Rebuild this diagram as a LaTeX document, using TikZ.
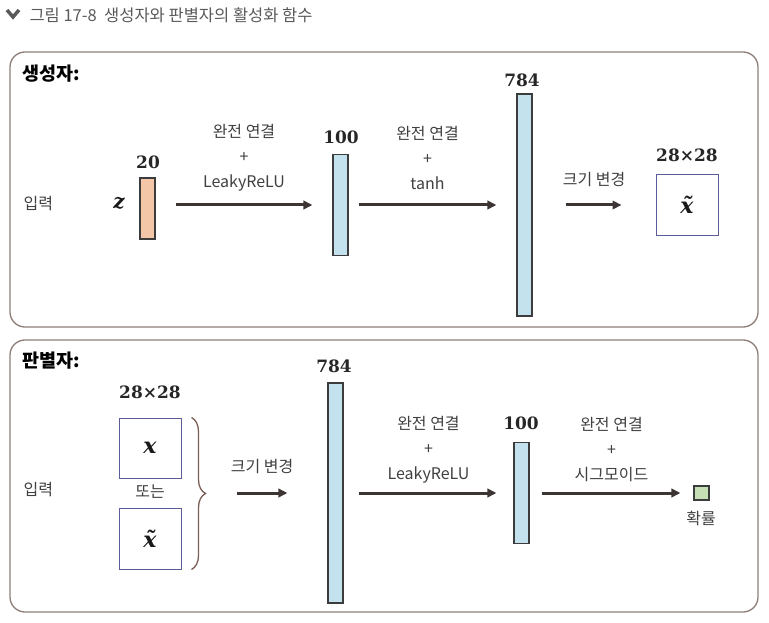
\documentclass[tikz,border=0pt]{standalone}
\usepackage{amsmath, amssymb}
\usepackage{fontspec}
\setmainfont{Noto Sans CJK KR}
\newfontfamily\dimfont{DejaVu Serif}
\usetikzlibrary{positioning, arrows.meta, decorations.pathreplacing}

\definecolor{titlegray}{HTML}{5A5A5A}
\definecolor{txtgray}{HTML}{404040}
\definecolor{panelline}{HTML}{8E7E78}
\definecolor{layerline}{HTML}{3C3C3C}
\definecolor{layerblue}{HTML}{C4E2EE}
\definecolor{layerorange}{HTML}{F2C6A6}
\definecolor{probgreen}{HTML}{C7DFB4}
\definecolor{imgline}{HTML}{5C5C98}
\definecolor{flowgray}{HTML}{3D3434}
\definecolor{bracebrown}{HTML}{7A5E55}

\tikzset{
	panel/.style={draw=panelline, line width=1.3pt, rounded corners=15pt},
	head/.style={anchor=west, font=\fontsize{18.5}{18.5}\selectfont\bfseries, text=black},
	plain/.style={text=txtgray},
	oplbl/.style={align=center, text=txtgray},
	dimlbl/.style={font=\dimfont\bfseries\fontsize{17}{17}\selectfont, text=black!85},
	varlbl/.style={font=\dimfont\bfseries\itshape\fontsize{22}{22}\selectfont, text=black!90},
	layer/.style={draw=layerline, line width=1.2pt, fill=layerblue, minimum width=15pt, inner sep=0pt},
	img/.style={draw=imgline, line width=1pt, minimum width=62pt, minimum height=60pt, inner sep=0pt},
	flow/.style={draw=flowgray, line width=3pt, -{Triangle[length=9pt, width=8.5pt]}},
	curly/.style={draw=bracebrown, line width=1.3pt, decorate, decoration={brace, amplitude=14pt}}
}

\begin{document}
\begin{tikzpicture}[x=1pt, y=-1pt, font=\fontsize{16}{25}\selectfont]
	\useasboundingbox (0,0) rectangle (769,623);
	%title
	\draw[titlegray, line width=3.5pt] (7,10) -- (13,17) -- (19,10);
	\node[anchor=west, text=titlegray, font=\fontsize{16.5}{20}\selectfont] (title) at (26,15) {그림 17-8\ \ 생성자와 판별자의 활성화 함수};
	%panels
	\draw[panel] (10,52) rectangle (758,327);
	\draw[panel] (10,340) rectangle (758,612);
	
	%generator
	\node[head] (genhead) at (19,74) {생성자:};
	\node[plain, anchor=west] (genin) at (20,204) {입력};
	\node[varlbl, font=\dimfont\bfseries\itshape\fontsize{20}{20}\selectfont] (zsym) at (119,203) {z};
	\node[layer, fill=layerorange, minimum height=61pt] (zvec) at (147.5,208.5) {};
	\node[dimlbl] (zdim) at (148,162) {20};
	\node[layer, minimum height=101pt] (h1) at (340.5,205) {};
	\node[dimlbl] (h1dim) at (341,137) {100};
	\node[layer, minimum height=222pt] (g784) at (524.5,205) {};
	\node[dimlbl] (g784dim) at (522,80) {784};
	\node[img, varlbl] (fakeimg) at (687,205) {\~{x}};
	\node[dimlbl] (fakedim) at (687,155) {28×28};
	
	\draw[flow, shorten <=20pt, shorten >=20pt] (zvec.east |- h1) -- (h1)
	node[oplbl, midway, yshift=47pt] (genop1) {완전 연결\\+\\LeakyReLU};
	\draw[flow, shorten <=10pt, shorten >=20pt] (h1) -- (g784)
	node[oplbl, midway, yshift=47pt, xshift=-5pt] (genop2) {완전 연결\\+\\tanh};
	\draw[flow, shorten <=33pt, shorten >=34pt] (g784) -- (fakeimg)
	node[oplbl, midway, yshift=25pt] (genop3) {크기 변경};
	
	%discriminator
	\node[head] (dishead) at (19,361) {판별자:};
	\node[plain, anchor=west] (disin) at (20,490) {입력};
	\node[dimlbl] (realdim) at (150,392) {28×28};
	\node[img, varlbl] (realimg) at (150,448) {x};
	\node[plain] (ordot) at (150,492) {또는};
	\node[img, varlbl, minimum height=61pt] (fakeimg2) at (150,538.5) {\~{x}};
	\draw[curly] ([xshift=10pt]realimg.north east) -- ([xshift=10pt]fakeimg2.south east);
	\coordinate (bracetip) at (207,493);
	\node[layer, minimum height=220pt] (d784) at (335.5,493) {};
	\node[dimlbl] (d784dim) at (334,366) {784};
	\node[layer, minimum height=101pt] (d100) at (521.5,493) {};
	\node[dimlbl] (d100dim) at (521,423) {100};
	\node[draw=layerline, line width=1.2pt, fill=probgreen, minimum width=15pt, minimum height=14pt, inner sep=0pt] (prob) at (701.5,493) {};
	\node[plain] (problbl) at (701,518) {확률};
	
	\draw[flow, shorten <=30pt, shorten >=40pt] (bracetip) -- (d784)
	node[oplbl, midway, yshift=26pt, xshift=-5pt] (disop1) {크기 변경};
	\draw[flow, shorten <=15pt, shorten >=17pt] (d784) -- (d100)
	node[oplbl, midway, yshift=43pt] (disop2) {완전 연결\\+\\LeakyReLU};
	\draw[flow, shorten <=12pt, shorten >=13pt] (d100) -- (prob)
	node[oplbl, midway, yshift=43pt] (disop3) {완전 연결\\+\\시그모이드};
\end{tikzpicture}
\end{document}
